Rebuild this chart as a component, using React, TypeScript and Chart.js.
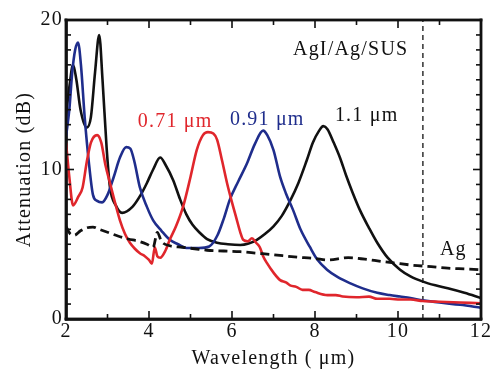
import React, { useEffect, useRef } from "react";
import { Chart, registerables } from "chart.js";

Chart.register(...registerables);

// ---- Data ----
const xTickValues = [2, 4, 6, 8, 10, 12];
const yTickValues = [0, 10, 20];

// 1.1 µm (black, solid)
const blackX = [2.0, 2.08, 2.17, 2.25, 2.35, 2.5, 2.6, 2.7, 2.8, 2.88, 2.98, 3.06, 3.2, 3.35, 3.6, 3.8, 3.95, 4.1, 4.27, 4.4, 4.58, 4.75, 4.9, 5.05, 5.23, 5.4, 5.64, 5.9, 6.2, 6.4, 6.6, 6.8, 7.0, 7.2, 7.4, 7.6, 7.8, 7.95, 8.1, 8.2, 8.3, 8.45, 8.6, 8.75, 8.9, 9.08, 9.3, 9.5, 9.75, 10.05, 10.3, 10.6, 10.9, 11.2, 11.6, 12.0];
const blackY = [13.6, 15.5, 17.0, 16.0, 14.0, 12.8, 13.5, 16.5, 19.0, 16.0, 11.4, 8.8, 7.6, 7.1, 7.5, 8.3, 9.1, 10.0, 10.8, 10.3, 9.3, 8.0, 7.0, 6.3, 5.75, 5.35, 5.1, 5.0, 4.95, 5.05, 5.3, 5.7, 6.2, 6.9, 7.9, 9.1, 10.6, 11.8, 12.6, 12.9, 12.7, 11.8, 10.8, 9.6, 8.5, 7.3, 6.1, 5.1, 4.1, 3.3, 2.85, 2.5, 2.25, 2.05, 1.75, 1.4];

// 0.91 µm (blue)
const blueX = [2.0, 2.08, 2.15, 2.22, 2.29, 2.36, 2.45, 2.55, 2.65, 2.75, 2.87, 3.0, 3.15, 3.3, 3.45, 3.55, 3.65, 3.78, 3.95, 4.1, 4.3, 4.5, 4.7, 4.9, 5.2, 5.45, 5.65, 5.8, 5.95, 6.15, 6.36, 6.55, 6.75, 6.85, 7.0, 7.16, 7.3, 7.47, 7.65, 7.88, 8.05, 8.29, 8.55, 8.84, 9.15, 9.5, 9.8, 10.05, 10.3, 10.6, 11.0, 11.5, 12.0];
const blueY = [12.2, 14.0, 16.5, 18.0, 18.5, 17.0, 13.5, 10.5, 8.3, 7.9, 7.8, 8.3, 9.5, 10.8, 11.5, 11.4, 10.5, 8.8, 7.5, 6.6, 5.9, 5.3, 5.0, 4.75, 4.75, 4.85, 5.6, 6.7, 8.0, 9.2, 10.4, 11.7, 12.6, 12.3, 11.3, 9.5, 8.4, 7.3, 6.0, 4.8, 4.0, 3.3, 2.8, 2.4, 2.05, 1.75, 1.6, 1.5, 1.4, 1.25, 1.1, 0.95, 0.75];

// 0.71 µm (red)
const redX = [2.0, 2.08, 2.17, 2.3, 2.4, 2.5, 2.6, 2.75, 2.85, 2.95, 3.06, 3.18, 3.3, 3.42, 3.54, 3.66, 3.78, 3.9, 4.0, 4.07, 4.14, 4.2, 4.27, 4.4, 4.5, 4.65, 4.82, 5.0, 5.15, 5.3, 5.42, 5.55, 5.64, 5.76, 5.88, 6.0, 6.1, 6.2, 6.27, 6.38, 6.48, 6.58, 6.67, 6.75, 6.84, 7.0, 7.16, 7.3, 7.4, 7.55, 7.7, 7.85, 8.0, 8.3, 8.5, 8.67, 9.0, 9.3, 9.5, 9.8, 10.05, 10.3, 10.6, 11.0, 11.5, 12.0];
const redY = [11.8, 9.5, 7.6, 8.2, 8.8, 10.5, 11.8, 12.3, 11.8, 10.3, 9.1, 7.8, 6.6, 5.7, 5.1, 4.7, 4.4, 4.2, 3.95, 3.7, 4.8, 4.2, 4.1, 4.6, 5.3, 6.2, 7.5, 9.5, 11.3, 12.3, 12.5, 12.4, 12.0, 10.6, 9.1, 7.8, 6.8, 5.8, 5.3, 5.2, 5.4, 5.1, 4.8, 4.2, 3.75, 3.1, 2.6, 2.45, 2.25, 2.15, 1.95, 1.95, 1.8, 1.6, 1.6, 1.5, 1.45, 1.5, 1.35, 1.35, 1.3, 1.3, 1.2, 1.15, 1.1, 1.05];

// Ag (black, dashed)
const agX = [2.0, 2.1, 2.2, 2.35, 2.5, 2.65, 2.8, 3.0, 3.25, 3.5, 3.75, 3.95, 4.1, 4.2, 4.3, 4.5, 4.8, 5.1, 5.4, 5.8, 6.2, 6.6, 7.0, 7.5, 8.0, 8.3, 8.8, 9.2, 9.6, 9.9, 10.35, 10.8, 11.2, 11.6, 12.0];
const agY = [6.2, 5.7, 5.6, 5.9, 6.1, 6.15, 6.0, 5.8, 5.55, 5.35, 5.2, 5.0, 4.8, 5.8, 5.2, 4.9, 4.8, 4.7, 4.6, 4.55, 4.5, 4.4, 4.3, 4.15, 4.05, 3.95, 4.1, 4.0, 3.85, 3.75, 3.6, 3.5, 3.4, 3.35, 3.3];

// vertical marker (dashed) at 10.6 µm
const markerX = [10.6, 10.6];
const markerY = [0, 20];

// axis extents
const X_MIN = 2;
const X_MAX = 12;
const Y_MIN = 0;
const Y_MAX = 20;

// text annotations
const annotationTexts = ["AgI/Ag/SUS", "0.71 \u03bcm", "0.91 \u03bcm", "1.1 \u03bcm", "Ag"];
const annotationX = [7.47, 3.73, 5.95, 8.48, 11.01];
const annotationY = [17.66, 12.84, 12.98, 13.24, 4.28];

const RED = "#e0262c";
const BLUE = "#1f2d8c";
const BLACK = "#111111";
const annotationColors = [BLACK, RED, BLUE, BLACK, BLACK];

const FONT = "'Liberation Serif', 'Times New Roman', serif";
const FRAME_W = 2.8;

const pts = (xs: number[], ys: number[]) => xs.map((x, i) => ({ x, y: ys[i] }));

export default function App() {
  const canvasRef = useRef<HTMLCanvasElement | null>(null);

  useEffect(() => {
    const canvas = canvasRef.current;
    if (!canvas) return;

    const framePlugin = {
      id: "frameAndTicks",
      beforeDraw(chart: any) {
        chart.ctx.letterSpacing = "1.2px";
      },
      afterDraw(chart: any) {
        const ctx = chart.ctx;
        const xs = chart.scales.x;
        const ys = chart.scales.y;
        const left = xs.getPixelForValue(X_MIN);
        const right = xs.getPixelForValue(X_MAX);
        const top = ys.getPixelForValue(Y_MAX);
        const bottom = ys.getPixelForValue(Y_MIN);
        ctx.save();
        ctx.fillStyle = BLACK;
        const tw = 1.6;
        // x ticks (every 1 µm, major every 2), inward, bottom and top
        for (let v = X_MIN; v <= X_MAX; v += 1) {
          const px = xs.getPixelForValue(v);
          const len = v % 2 === 0 ? 8 : 5;
          ctx.fillRect(px - tw / 2, bottom - len, tw, len);
          ctx.fillRect(px - tw / 2, top, tw, len);
        }
        // y ticks (every 1 dB, major every 10), inward, left and right
        for (let v = Y_MIN; v <= Y_MAX; v += 1) {
          const py = ys.getPixelForValue(v);
          const len = v % 10 === 0 ? 8 : 5;
          ctx.fillRect(left, py - tw / 2, len, tw);
          ctx.fillRect(right - len, py - tw / 2, len, tw);
        }
        // frame
        const fw = FRAME_W;
        ctx.fillRect(left - fw / 2, top - fw / 2, right - left + fw, fw);
        ctx.fillRect(left - fw / 2, bottom - fw / 2, right - left + fw, fw);
        ctx.fillRect(left - fw / 2, top - fw / 2, fw, bottom - top + fw);
        ctx.fillRect(right - fw / 2, top - fw / 2, fw, bottom - top + fw);
        // annotations
        ctx.font = `20px ${FONT}`;
        ctx.textAlign = "left";
        ctx.textBaseline = "alphabetic";
        ctx.letterSpacing = "1.2px";
        annotationTexts.forEach((t, i) => {
          ctx.fillStyle = annotationColors[i];
          ctx.fillText(t, xs.getPixelForValue(annotationX[i]), ys.getPixelForValue(annotationY[i]));
        });
        ctx.restore();
      },
    };

    const lineDs = (label: string, data: any[], color: string, extra: any = {}) => ({
      label,
      data,
      borderColor: color,
      backgroundColor: color,
      borderWidth: 2.6,
      pointRadius: 0,
      tension: 0,
      cubicInterpolationMode: "monotone",
      fill: false,
      ...extra,
    });

    const chart = new Chart(canvas, {
      type: "line",
      data: {
        datasets: [
          lineDs("Ag", pts(agX, agY), BLACK, { borderDash: [9, 5], borderWidth: 2.8 }),
          lineDs("0.71 \u03bcm", pts(redX, redY), RED),
          lineDs("0.91 \u03bcm", pts(blueX, blueY), BLUE),
          lineDs("1.1 \u03bcm", pts(blackX, blackY), BLACK),
          lineDs("10.6 \u03bcm", pts(markerX, markerY), BLACK, { borderDash: [5, 4], borderWidth: 1.3, cubicInterpolationMode: "default" }),
        ],
      },
      options: {
        responsive: false,
        animation: false,
        layout: { padding: { left: 0, right: 10, top: 20, bottom: 0 } },
        plugins: { legend: { display: false }, tooltip: { enabled: false } },
        scales: {
          x: {
            type: "linear",
            min: X_MIN,
            max: X_MAX,
            afterBuildTicks: (scale: any) => {
              scale.ticks = xTickValues.map((v) => ({ value: v }));
            },
            afterFit: (scale: any) => {
              scale.height = 59;
              scale.paddingLeft = 0;
              scale.paddingRight = 0;
            },
            grid: { display: false, drawTicks: false },
            border: { display: true, color: BLACK, width: FRAME_W },
            ticks: { padding: 1, color: BLACK, font: { family: FONT, size: 20 }, maxRotation: 0 },
            title: {
              display: true,
              text: "Wavelength ( \u03bcm)",
              color: BLACK,
              font: { family: FONT, size: 20 },
              padding: { top: 0, bottom: 7.5 },
            },
          },
          y: {
            type: "linear",
            min: Y_MIN,
            max: Y_MAX,
            afterBuildTicks: (scale: any) => {
              scale.ticks = yTickValues.map((v) => ({ value: v }));
            },
            afterFit: (scale: any) => {
              scale.width = 66;
              scale.paddingTop = 0;
              scale.paddingBottom = 0;
            },
            grid: { display: false, drawTicks: false },
            border: { display: true, color: BLACK, width: FRAME_W },
            ticks: { padding: 3, color: BLACK, font: { family: FONT, size: 20 } },
            title: {
              display: true,
              text: "Attenuation (dB)",
              color: BLACK,
              font: { family: FONT, size: 20 },
              padding: { top: 12.5, bottom: 0 },
            },
          },
        },
      },
      plugins: [framePlugin],
    } as any);

    return () => chart.destroy();
  }, []);

  return (
    <div style={{ position: "absolute", left: 0, top: 0, width: 491, height: 378, background: "#fff" }}>
      <canvas ref={canvasRef} width={491} height={378} />
    </div>
  );
}
